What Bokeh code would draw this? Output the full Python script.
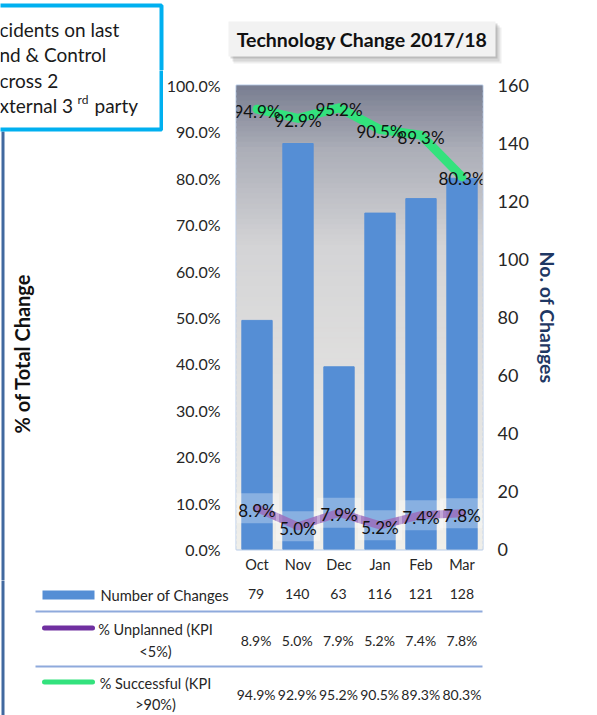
import math
from bokeh.plotting import figure
from bokeh.layouts import row, column
from bokeh.models import (Range1d, LinearAxis, FactorRange, FixedTicker, PrintfTickFormatter)
from bokeh.embed import file_html
from bokeh.resources import INLINE
from bokeh.core.properties import value

# ---------------- data ----------------
months = ["Oct", "Nov", "Dec", "Jan", "Feb", "Mar"]
changes = [79, 140, 63, 116, 121, 128]
unplanned = [8.9, 5.0, 7.9, 5.2, 7.4, 7.8]
successful = [94.9, 92.9, 95.2, 90.5, 89.3, 80.3]
pct_ticks = [0, 10, 20, 30, 40, 50, 60, 70, 80, 90, 100]
count_ticks = [0, 20, 40, 60, 80, 100, 120, 140, 160]
title_text = "Technology Change 2017/18"
left_title = "% of Total Change"
right_title = "No. of Changes"
row_names = ["Number of Changes", "% Unplanned (KPI", "% Successful (KPI"]
row_names2 = ["", "<5%)", ">90%)"]
note_lines = ["cidents on last", "nd & Control", "cross 2", "xternal 3"]

# ---------------- page geometry ----------------
W, H = 597, 715
LW = 163          # left decoration strip width
TH = 70           # top decoration strip height
MH = 580          # bottom of main chart block
FL, FR, FT, FB = 235, 482, 85, 549   # plot area on the page
FONT = "Lato"
TXT = "#262626"
BAR = "#558ED5"
PURPLE = "#7030A0"
GREEN = "#33E27D"
EDGE = "#41699F"
CYAN = "#00B0F0"


def canvas_fig(w, h):
    f = figure(width=w, height=h, x_range=Range1d(0, w), y_range=Range1d(0, h),
               output_backend="svg", toolbar_location=None, min_border=0,
               x_axis_type=None, y_axis_type=None)
    f.grid.visible = False
    f.outline_line_color = None
    f.background_fill_color = "white"
    f.border_fill_color = "white"
    return f


def txt(f, ox, oy, h, t, cx, cy, size, bold=False, color=TXT, align="left", angle=0.0):
    f.text(x=[cx - ox], y=[h - (cy - oy)], text=[t], text_font=value(FONT),
           text_font_size=size, text_font_style="bold" if bold else "normal",
           text_color=color, text_align=align, text_baseline="middle", angle=angle)


def rect(f, ox, oy, h, x0, y0, x1, y1, fill, alpha=1.0, line=None, lw=0):
    f.quad(left=[x0 - ox], right=[x1 - ox], top=[h - (y0 - oy)], bottom=[h - (y1 - oy)],
           fill_color=fill, fill_alpha=alpha,
           line_color=line, line_width=lw, line_alpha=1.0 if line else 0.0)


NOTE_SIZE = "19px"
NOTE_Y = [29, 54, 80, 105]
NOTE_BOX = (-10, 5, 161, 129)

# ---------------- top strip (full width) ----------------
top = canvas_fig(W, TH)
rect(top, 0, 0, TH, *NOTE_BOX, "white", line=CYAN, lw=4)
for t, cy in zip(note_lines[:2], NOTE_Y[:2]):
    txt(top, 0, 0, TH, t, -1, cy, NOTE_SIZE, color="#1a1a1a")
rect(top, 0, 0, TH, 233, 27, 501, 63, "#777777", alpha=0.12)
rect(top, 0, 0, TH, 232, 25, 499, 61, "#777777", alpha=0.18)
rect(top, 0, 0, TH, 230, 23, 497, 58, "#666666", alpha=0.25)
rect(top, 0, 0, TH, 228, 21, 495, 56, "#F2F2F2")
txt(top, 0, 0, TH, title_text, 361.5, 39, "19.5px", bold=True, color="#111111",
    align="center")

# ---------------- left strip ----------------
lh = MH - TH
left = canvas_fig(LW, lh)
rect(left, 0, TH, lh, 1, 131, 4, MH + 2, EDGE)
rect(left, 0, TH, lh, *NOTE_BOX, "white", line=CYAN, lw=4)
for t, cy in zip(note_lines[2:], NOTE_Y[2:]):
    txt(left, 0, TH, lh, t, -1, cy, NOTE_SIZE, color="#1a1a1a")
txt(left, 0, TH, lh, "rd", 77, 99, "12px", color="#1a1a1a")
txt(left, 0, TH, lh, "party", 94, 105, NOTE_SIZE, color="#1a1a1a")
txt(left, 0, TH, lh, left_title, 21, 353, "20px", bold=True, color="#111111",
    align="center", angle=math.pi / 2)

# ---------------- main chart ----------------
p = figure(width=W - LW, height=MH - TH, x_range=FactorRange(*months),
           y_range=Range1d(0, 100), output_backend="svg", toolbar_location=None,
           min_border_left=FL - LW, min_border_right=W - FR, min_border_top=FT - TH,
           min_border_bottom=MH - FB)
p.extra_y_ranges = {"count": Range1d(0, 160)}
p.background_fill_color = "#efeee9"
p.border_fill_color = "white"
p.outline_line_color = "#b7cbe8"
p.outline_line_width = 2
p.xgrid.grid_line_color = None
p.ygrid.grid_line_color = None


def style_axis(ax, standoff, size):
    ax.axis_line_color = None
    ax.major_tick_line_color = None
    ax.minor_tick_line_color = None
    ax.major_tick_out = 0
    ax.major_tick_in = 0
    ax.major_label_text_font = FONT
    ax.major_label_text_font_size = size
    ax.major_label_text_color = TXT
    ax.major_label_standoff = standoff


p.yaxis.ticker = FixedTicker(ticks=pct_ticks)
p.yaxis.formatter = PrintfTickFormatter(format="%.1f%%")
style_axis(p.yaxis[0], 16, "16px")
style_axis(p.xaxis[0], 6, "14.5px")
rax = LinearAxis(y_range_name="count", ticker=FixedTicker(ticks=count_ticks))
style_axis(rax, 15, "18px")
rax.axis_label = right_title
rax.axis_label_text_font = FONT
rax.axis_label_text_font_size = "19.5px"
rax.axis_label_text_font_style = "bold"
rax.axis_label_text_color = "#1F3864"
rax.axis_label_standoff = 4
p.add_layout(rax, "right")

# gradient background of the plot area
def lerp(c1, c2, t):
    return tuple(int(round(a + (b - a) * t)) for a, b in zip(c1, c2))

stops = [(0.0, (120, 125, 144)), (0.14, (172, 174, 184)), (0.35, (212, 212, 214)),
         (1.0, (240, 239, 234))]

def grad(fr):
    for (f1, c1), (f2, c2) in zip(stops[:-1], stops[1:]):
        if f1 <= fr <= f2:
            return lerp(c1, c2, (fr - f1) / (f2 - f1))
    return stops[-1][1]

n = 90
bots, tops, cols = [], [], []
for i in range(n):
    tops.append(100 - 100 * i / n)
    bots.append(100 - 100 * (i + 1) / n - 0.3)
    cols.append("#%02x%02x%02x" % grad((i + 0.5) / n))
p.quad(left=0, right=len(months), bottom=bots, top=tops, color=cols, level="underlay")

p.vbar(x=months, top=changes, width=0.74, y_range_name="count", color=BAR)
p.line(months, successful, line_width=9, color=GREEN, line_join="round", line_cap="round")
p.line(months, unplanned, line_width=8, color=PURPLE, alpha=0.85, line_join="round",
       line_cap="round")
p.rect(x=months, y=unplanned, width=44, height=30, width_units="screen",
       height_units="screen", fill_color="white", fill_alpha=0.3, line_color=None)
for vals in (successful, unplanned):
    p.text(x=months, y=vals, text=["%.1f%%" % v for v in vals],
           text_align="center", text_baseline="middle", y_offset=2,
           text_font=value(FONT), text_font_size="17px", text_color="#111111")

# ---------------- data table strip ----------------
bh = H - MH
tab = canvas_fig(W, bh)
rect(tab, 0, MH, bh, 1, MH - 2, 4, H + 2, EDGE)
rect(tab, 0, MH, bh, 42, 590, 94, 599, BAR)
for col, cy in ((PURPLE, 627.5), (GREEN, 681.5)):
    tab.line(x=[44, 92], y=[bh - (cy - MH)] * 2, line_width=5, color=col, line_cap="round")
for cy in (611, 666):
    rect(tab, 0, MH, bh, 35, cy - 1, 482, cy + 1, "#8FAADC")
txt(tab, 0, MH, bh, row_names[0], 100, 594, "14.7px")
txt(tab, 0, MH, bh, row_names[1], 155, 629, "14.5px", align="center")
txt(tab, 0, MH, bh, row_names2[1], 155, 651, "14.5px", align="center")
txt(tab, 0, MH, bh, row_names[2], 155, 683, "14.5px", align="center")
txt(tab, 0, MH, bh, row_names2[2], 155, 704, "14.5px", align="center")
cw = (FR - FL) / len(months)
rows = [[str(v) for v in changes], ["%.1f%%" % v for v in unplanned],
        ["%.1f%%" % v for v in successful]]
for vals, cy in zip(rows, (593, 640, 694)):
    tab.text(x=[FL + (i + 0.5) * cw for i in range(len(vals))],
             y=[bh - (cy - MH)] * len(vals), text=vals, text_align="center",
             text_baseline="middle", text_font=value(FONT), text_font_size="14px",
             text_color=TXT)

layout = column(top, row(left, column(p)), tab)
open("out.html", "w").write(file_html(layout, INLINE))
